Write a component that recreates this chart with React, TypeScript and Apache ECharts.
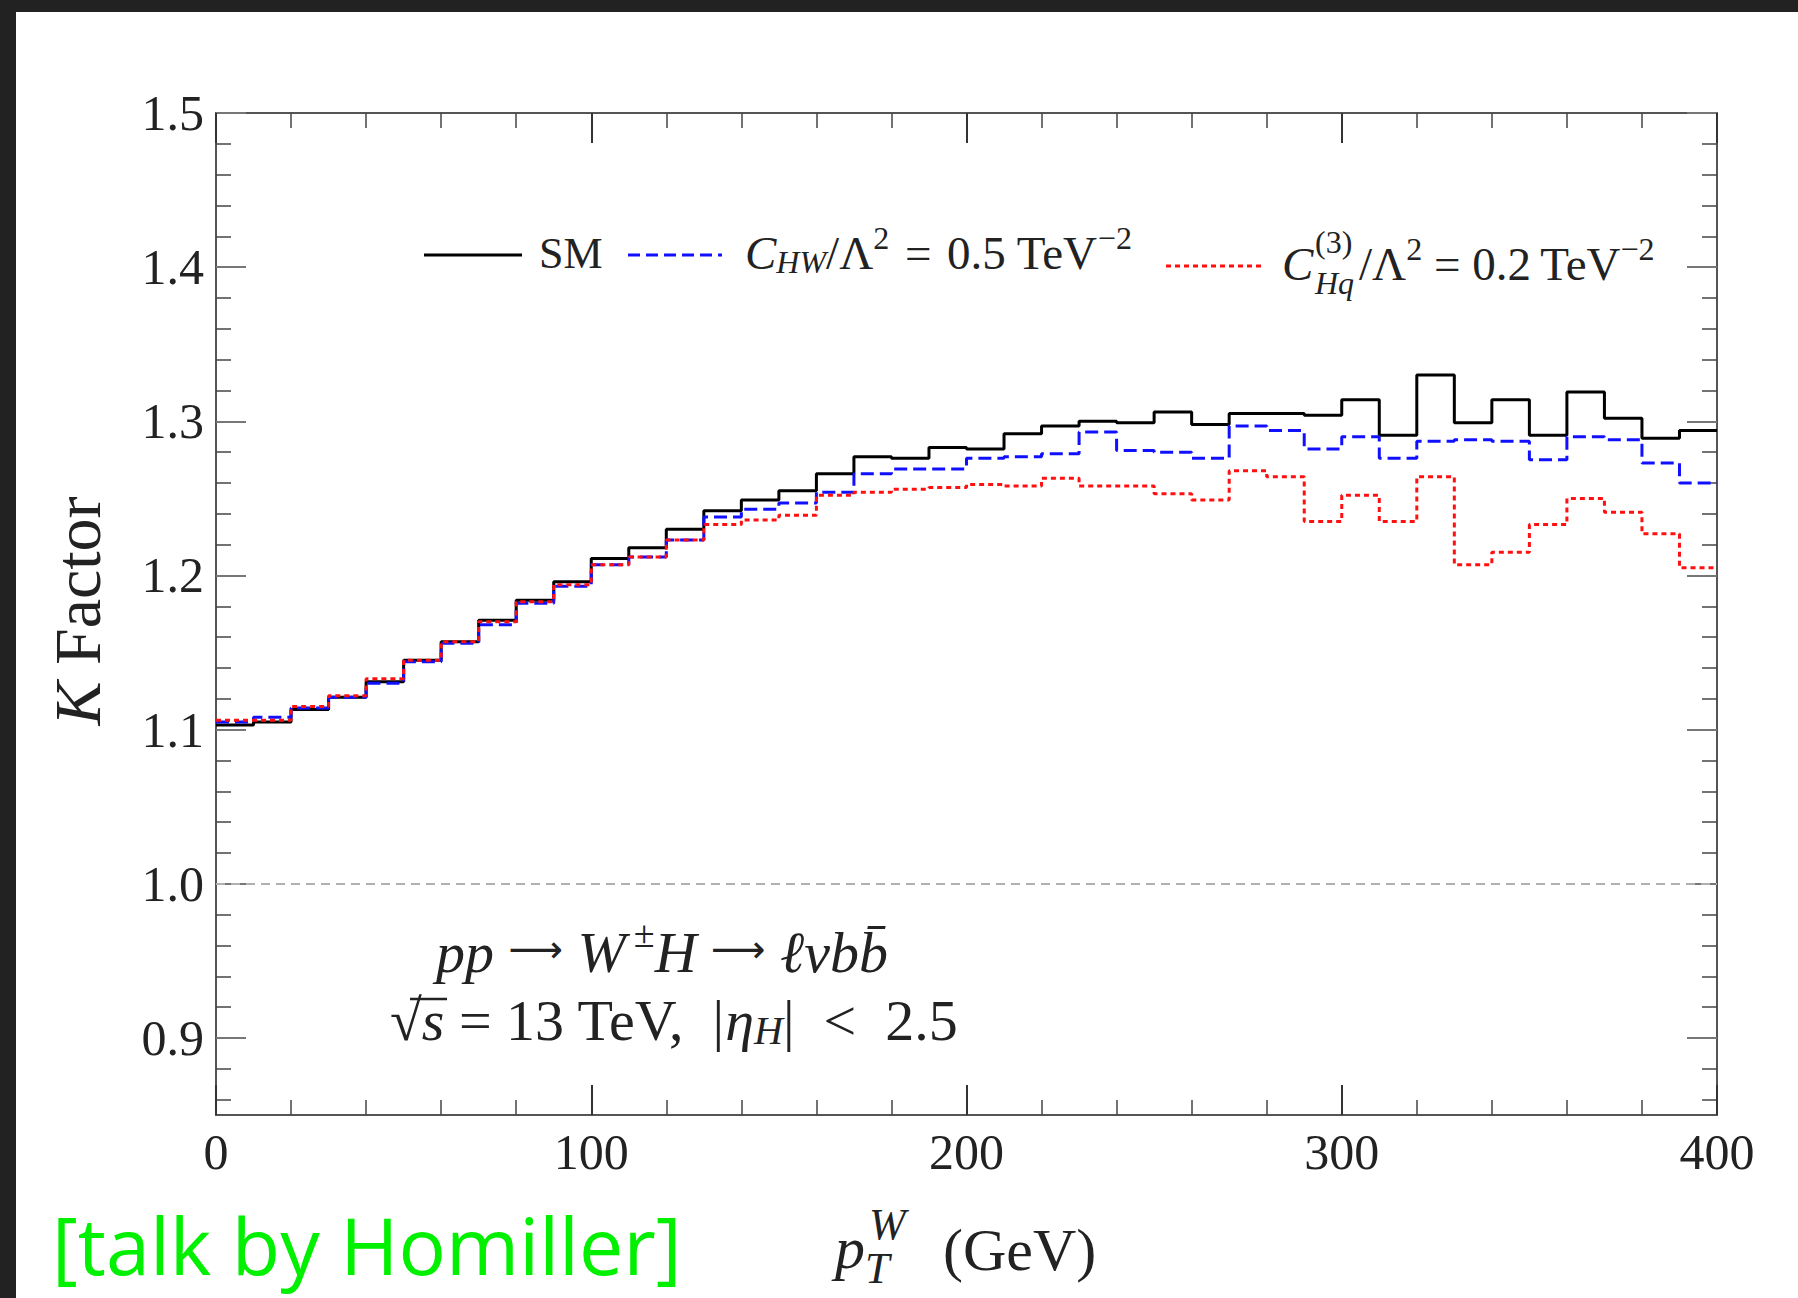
import React, { useEffect, useRef } from "react";
import * as echarts from "echarts";

// p_T^W bin edges (GeV), 10 GeV bins
const binEdges = [
  0, 10, 20, 30, 40, 50, 60, 70, 80, 90, 100, 110, 120, 130, 140, 150, 160, 170, 180, 190, 200,
  210, 220, 230, 240, 250, 260, 270, 280, 290, 300, 310, 320, 330, 340, 350, 360, 370, 380, 390, 400,
];

// K factor per bin: Standard Model
const kSM = [
  1.103, 1.105, 1.113, 1.121, 1.131, 1.145, 1.157, 1.171, 1.184, 1.196,
  1.211, 1.218, 1.230, 1.242, 1.249, 1.255, 1.266, 1.277, 1.276, 1.283,
  1.282, 1.292, 1.297, 1.300, 1.299, 1.306, 1.298, 1.305, 1.305, 1.304,
  1.314, 1.291, 1.330, 1.299, 1.314, 1.291, 1.319, 1.302, 1.289, 1.294,
];

// K factor per bin: C_HW / Lambda^2 = 0.5 TeV^-2
const kCHW = [
  1.105, 1.108, 1.114, 1.121, 1.130, 1.144, 1.156, 1.168, 1.182, 1.193,
  1.207, 1.212, 1.223, 1.238, 1.243, 1.247, 1.254, 1.266, 1.269, 1.269,
  1.276, 1.277, 1.279, 1.293, 1.281, 1.280, 1.276, 1.297, 1.294, 1.282,
  1.290, 1.276, 1.287, 1.288, 1.287, 1.275, 1.290, 1.288, 1.273, 1.260,
];

// K factor per bin: C_Hq^(3) / Lambda^2 = 0.2 TeV^-2
const kCHq3 = [
  1.106, 1.106, 1.115, 1.122, 1.133, 1.145, 1.157, 1.170, 1.183, 1.194,
  1.207, 1.212, 1.223, 1.233, 1.236, 1.239, 1.252, 1.254, 1.256, 1.257,
  1.259, 1.258, 1.263, 1.258, 1.258, 1.253, 1.249, 1.268, 1.264, 1.235,
  1.252, 1.235, 1.264, 1.207, 1.215, 1.233, 1.250, 1.241, 1.227, 1.205,
];

const xTickValues = [0, 100, 200, 300, 400];
const yTickLabels = [0.9, 1.0, 1.1, 1.2, 1.3, 1.4, 1.5];
const referenceLevel = 1.0;

const SERIF = "'Liberation Serif', 'DejaVu Serif', serif";
const ARROW_FONT = "'DejaVu Sans', sans-serif";
const INK = "#222";

// minor y ticks every 0.02 between the labelled ones
const yMinorTicks: number[] = [];
for (let k = 43; k <= 75; k++) {
  if (k % 5 !== 0) yMinorTicks.push(Math.round(k * 2) / 100);
}

// histogram as a step line: one point per left bin edge plus the closing edge
const toSteps = (vals: number[]) =>
  binEdges.map((x, i) => [x, vals[Math.min(i, vals.length - 1)]]);

const supStyle = (size: number, lift: number, left = 0) => ({
  fontSize: size,
  fontFamily: SERIF,
  fill: INK,
  verticalAlign: "middle",
  padding: [0, 0, lift * 2, left],
});
const subStyle = (size: number, drop: number, italic = true) => ({
  fontSize: size,
  fontFamily: SERIF,
  fontStyle: italic ? "italic" : "normal",
  fill: INK,
  verticalAlign: "middle",
  padding: [drop * 2, 0, 0, 0],
});
const baseStyle = (size: number, italic = false) => ({
  fontSize: size,
  fontFamily: SERIF,
  fontStyle: italic ? "italic" : "normal",
  fill: INK,
  verticalAlign: "middle",
});
const arrowStyle = (size: number) => ({
  fontSize: size,
  fontFamily: ARROW_FONT,
  fill: INK,
  verticalAlign: "middle",
  padding: [0, 0, 6, 0],
});

function buildOption(): echarts.EChartsCoreOption {
  const majorTick = { color: "#777", width: 2 };
  const minorTick = { color: "#444", width: 1.5 };
  const frame = { color: "#555", width: 2 };

  const yCommon = { type: "value", min: 0.85, max: 1.5, splitLine: { show: false } };
  const xCommon = {
    type: "value",
    min: 0,
    max: 400,
    interval: 100,
    splitLine: { show: false },
    axisLine: { show: true, lineStyle: frame },
    axisTick: { show: true, inside: true, length: 30, lineStyle: { color: "#333", width: 2 } },
    minorTick: { show: true, splitNumber: 5, length: 15, lineStyle: minorTick },
  };

  const smText = 44;
  const legendText = 47;
  const legendSup = 32;
  const annText = 58;
  const thin = "\u2009";
  const mid = "\u2004";
  const en = "\u2002";

  return {
    animation: false,
    backgroundColor: "#ffffff",
    grid: { left: 216, top: 113, right: 81, bottom: 183, containLabel: false },
    xAxis: [
      {
        ...xCommon,
        position: "bottom",
        axisLabel: {
          show: true,
          color: INK,
          fontFamily: SERIF,
          fontSize: 50,
          margin: 12,
          customValues: xTickValues,
        },
      },
      { ...xCommon, position: "top", axisLabel: { show: false } },
    ],
    yAxis: [
      {
        ...yCommon,
        position: "left",
        axisLine: { show: true, lineStyle: frame },
        axisTick: { show: true, inside: true, length: 30, customValues: yTickLabels, lineStyle: majorTick },
        axisLabel: {
          show: true,
          customValues: yTickLabels,
          formatter: (v: number) => v.toFixed(1),
          color: INK,
          fontFamily: SERIF,
          fontSize: 50,
          margin: 12,
        },
      },
      {
        ...yCommon,
        position: "left",
        axisLine: { show: false },
        axisTick: { show: true, inside: true, length: 15, customValues: yMinorTicks, lineStyle: minorTick },
        axisLabel: { show: false },
      },
      {
        ...yCommon,
        position: "right",
        axisLine: { show: true, lineStyle: frame },
        axisTick: { show: true, inside: true, length: 30, customValues: yTickLabels, lineStyle: majorTick },
        axisLabel: { show: false },
      },
      {
        ...yCommon,
        position: "right",
        axisLine: { show: false },
        axisTick: { show: true, inside: true, length: 15, customValues: yMinorTicks, lineStyle: minorTick },
        axisLabel: { show: false },
      },
    ],
    series: [
      {
        name: "SM",
        type: "line",
        step: "end",
        symbol: "none",
        xAxisIndex: 0,
        yAxisIndex: 0,
        data: toSteps(kSM),
        lineStyle: { color: "#000000", width: 3 },
        z: 3,
        markLine: {
          silent: true,
          symbol: ["none", "none"],
          label: { show: false },
          lineStyle: { color: "#b0b0b0", width: 2, type: [9, 6] },
          data: [{ yAxis: referenceLevel }],
          z: 1,
        },
      },
      {
        name: "C_HW",
        type: "line",
        step: "end",
        symbol: "none",
        xAxisIndex: 0,
        yAxisIndex: 0,
        data: toSteps(kCHW),
        lineStyle: { color: "#1010ff", width: 3, type: [13, 6] },
        z: 4,
      },
      {
        name: "C_Hq(3)",
        type: "line",
        step: "end",
        symbol: "none",
        xAxisIndex: 0,
        yAxisIndex: 0,
        data: toSteps(kCHq3),
        lineStyle: { color: "#ff1010", width: 3, type: [5, 4] },
        z: 5,
      },
    ],
    graphic: [
      // slide frame
      { type: "rect", shape: { x: 0, y: 0, width: 1798, height: 12 }, style: { fill: "#222222" }, z: 100 },
      { type: "rect", shape: { x: 0, y: 0, width: 16, height: 1298 }, style: { fill: "#222222" }, z: 100 },

      // legend
      { type: "line", shape: { x1: 424, y1: 255, x2: 522, y2: 255 }, style: { stroke: "#000", lineWidth: 3 } },
      {
        type: "text",
        x: 539,
        y: 253,
        style: { text: "SM", ...baseStyle(smText), align: "left", verticalAlign: "middle" },
      },
      {
        type: "line",
        shape: { x1: 628, y1: 255, x2: 722, y2: 255 },
        style: { stroke: "#1010ff", lineWidth: 3, lineDash: [12, 6] },
      },
      {
        type: "text",
        x: 745,
        y: 253,
        style: {
          text: `{i|C}{sub|HW}{n|/Λ}{sup|2}{n|${mid}=${mid}0.5 TeV}{sup|−2}`,
          ...baseStyle(legendText),
          align: "left",
          verticalAlign: "middle",
          rich: {
            i: baseStyle(legendText, true),
            n: baseStyle(legendText),
            sub: subStyle(legendSup, 9),
            sup: supStyle(legendSup, 15),
          },
        },
      },
      {
        type: "line",
        shape: { x1: 1166, y1: 266, x2: 1261, y2: 266 },
        style: { stroke: "#ff1010", lineWidth: 3, lineDash: [5, 4] },
      },
      {
        type: "text",
        x: 1282,
        y: 264,
        style: { text: "C", ...baseStyle(legendText, true), align: "left", verticalAlign: "middle" },
      },
      {
        type: "text",
        x: 1315,
        y: 242,
        style: { text: "(3)", ...baseStyle(legendSup), align: "left", verticalAlign: "middle" },
      },
      {
        type: "text",
        x: 1315,
        y: 283,
        style: { text: "Hq", ...baseStyle(legendSup, true), align: "left", verticalAlign: "middle" },
      },
      {
        type: "text",
        x: 1359,
        y: 264,
        style: {
          text: `{n|/Λ}{sup|2}{n| = 0.2${thin}TeV}{sup|−2}`,
          ...baseStyle(legendText),
          align: "left",
          verticalAlign: "middle",
          rich: { n: baseStyle(legendText), sup: supStyle(legendSup, 15) },
        },
      },

      // process annotation
      {
        type: "text",
        x: 436,
        y: 952,
        style: {
          text: "{i|pp}{n| }{ar|⟶}{n| }{i|W}{sup|±}{i|H}{n| }{ar|⟶}{n| }{i|ℓνbb̄}",
          ...baseStyle(annText),
          align: "left",
          verticalAlign: "middle",
          rich: {
            i: baseStyle(annText, true),
            n: baseStyle(annText),
            sup: supStyle(38, 18, 8),
            ar: arrowStyle(38),
          },
        },
      },
      {
        type: "text",
        x: 390,
        y: 1020,
        style: {
          text: `{n|√}{i|s}{n| = 13 TeV,  |}{i|η}{sub|H}{n||${en}<${en}2.5}`,
          ...baseStyle(annText),
          align: "left",
          verticalAlign: "middle",
          rich: { i: baseStyle(annText, true), n: baseStyle(annText), sub: subStyle(40, 10) },
        },
      },
      // vinculum of the square root
      { type: "line", shape: { x1: 410, y1: 999, x2: 447, y2: 999 }, style: { stroke: INK, lineWidth: 2.5 } },

      // axis titles
      {
        type: "text",
        x: 77,
        y: 611,
        rotation: Math.PI / 2,
        style: {
          text: "{i|K} Factor",
          ...baseStyle(66),
          align: "center",
          verticalAlign: "middle",
          rich: { i: baseStyle(66, true) },
        },
      },
      {
        type: "text",
        x: 835,
        y: 1248,
        style: { text: "p", ...baseStyle(60, true), align: "left", verticalAlign: "middle" },
      },
      {
        type: "text",
        x: 869,
        y: 1224,
        style: { text: "W", ...baseStyle(44, true), align: "left", verticalAlign: "middle" },
      },
      {
        type: "text",
        x: 865,
        y: 1268,
        style: { text: "T", ...baseStyle(44, true), align: "left", verticalAlign: "middle" },
      },
      {
        type: "text",
        x: 943,
        y: 1250,
        style: { text: "(GeV)", ...baseStyle(60), align: "left", verticalAlign: "middle" },
      },

      // credit
      {
        type: "text",
        x: 52,
        y: 1244,
        style: {
          text: "[talk by Homiller]",
          fontSize: 79,
          fontFamily: "'Open Sans', 'Noto Sans', sans-serif",
          fill: "#00f000",
          align: "left",
          verticalAlign: "middle",
        },
      },
    ],
  };
}

export default function App() {
  const ref = useRef<HTMLDivElement>(null);

  useEffect(() => {
    if (!ref.current) return;
    const chart = echarts.init(ref.current, undefined, { renderer: "svg" });
    chart.setOption(buildOption());
    return () => chart.dispose();
  }, []);

  return (
    <div
      ref={ref}
      style={{ position: "absolute", left: 0, top: 0, width: 1798, height: 1298, background: "#fff" }}
    />
  );
}
